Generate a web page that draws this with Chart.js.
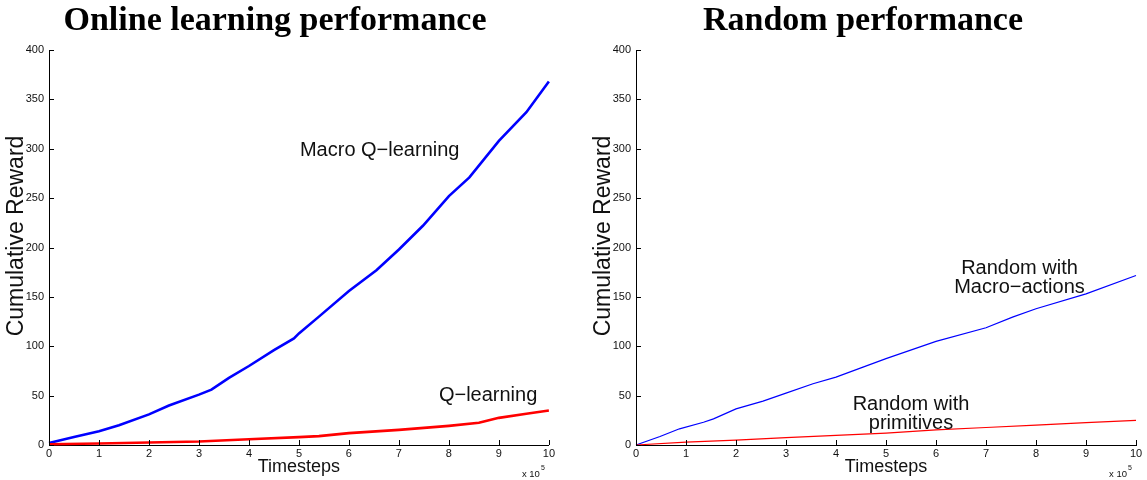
<!DOCTYPE html>
<html>
<head>
<meta charset="utf-8">
<script src="https://cdn.jsdelivr.net/npm/chart.js@4.4.1/dist/chart.umd.min.js"></script>
<style>
  html, body { margin: 0; padding: 0; background: #fff; }
  body { width: 1147px; height: 480px; position: relative; overflow: hidden; }
  #wrapLeft  { position: absolute; left: 0;     top: 0; width: 557px; height: 480px; }
  #wrapRight { position: absolute; left: 590px; top: 0; width: 557px; height: 480px; }
</style>
</head>
<body>
<div id="wrapLeft"><canvas id="chartLeft"></canvas></div>
<div id="wrapRight"><canvas id="chartRight"></canvas></div>
<script>
// Axis ticks (timesteps are in units of 1e5)
const xTickValues = [0, 1, 2, 3, 4, 5, 6, 7, 8, 9, 10];
const yTickValues = [0, 50, 100, 150, 200, 250, 300, 350, 400];

// Online learning: Macro Q-learning
const macroQSteps = [0, 0.5, 1, 1.4, 2, 2.4, 3, 3.25, 3.6, 4, 4.5, 4.9, 5, 5.4, 6, 6.55, 7, 7.48, 8, 8.41, 9, 9.55, 10];
const macroQReward = [2, 8, 14, 20, 31, 40, 51, 56, 68, 80, 96, 108, 113, 130, 156, 177, 198, 222, 252, 271, 308, 337, 368];

// Online learning: Q-learning
const qSteps = [0, 1, 2, 3, 4, 5, 5.4, 6, 7, 8, 8.6, 9, 9.55, 10];
const qReward = [0.8, 1.5, 2.5, 3.5, 5.9, 8, 9, 12, 15.3, 19.4, 22.5, 27.5, 31.6, 35];

// Random policy with macro-actions
const randMacroSteps = [0, 0.48, 0.87, 1.35, 1.55, 2, 2.54, 3, 3.54, 4, 4.54, 5, 6, 7, 7.53, 8, 9, 10];
const randMacroReward = [0, 8.6, 16.4, 23, 26.5, 36.6, 44.4, 52.5, 62, 68.7, 78.8, 87.5, 105, 118.7, 129.5, 138, 153, 171.6];

// Random policy with primitives
const randPrimSteps = [0, 1, 2, 3, 4, 5, 6, 7, 8, 9, 10];
const randPrimReward = [0, 3, 5, 7.4, 9.7, 12, 15.3, 17.7, 20.2, 22.6, 25];

const SANS = "'Liberation Sans', Arial, Helvetica, sans-serif";
const SERIF = "'Liberation Serif', 'Times New Roman', serif";

// Draws MATLAB-style inward tick marks, the y label, the x10^5 exponent and the in-plot text labels
const axesDecor = {
  id: 'axesDecor',
  afterDraw(chart, args, opts) {
    const { ctx, chartArea, scales: { x, y } } = chart;
    ctx.save();
    ctx.strokeStyle = '#000';
    ctx.lineWidth = 1;
    ctx.beginPath();
    x.ticks.forEach(t => {
      const px = Math.round(x.getPixelForValue(t.value)) + 0.5;
      ctx.moveTo(px, chartArea.bottom);
      ctx.lineTo(px, chartArea.bottom - 5);
    });
    y.ticks.forEach(t => {
      const py = Math.round(y.getPixelForValue(t.value)) + 0.5;
      ctx.moveTo(chartArea.left, py);
      ctx.lineTo(chartArea.left + 5, py);
    });
    ctx.stroke();

    // y axis label, rotated
    ctx.fillStyle = '#111';
    ctx.save();
    ctx.translate(opts.yLabelX, opts.yLabelY);
    ctx.rotate(-Math.PI / 2);
    ctx.textAlign = 'center';
    ctx.textBaseline = 'middle';
    ctx.font = `23px ${SANS}`;
    ctx.fillText('Cumulative Reward', 0, 0);
    ctx.restore();

    // exponent of the x axis
    ctx.textBaseline = 'alphabetic';
    ctx.textAlign = 'right';
    ctx.font = `7px ${SANS}`;
    const ex = chartArea.right - 4;
    ctx.fillText('5', ex, 470);
    ctx.font = `9.5px ${SANS}`;
    ctx.fillText('x 10', ex - 5, 476.5);

    // text labels anchored in data coordinates
    ctx.textBaseline = 'middle';
    ctx.font = `${opts.fontSize}px ${SANS}`;
    (opts.labels || []).forEach(l => {
      ctx.textAlign = l.align;
      const px = x.getPixelForValue(l.x);
      l.lines.forEach((txt, i) => {
        ctx.fillText(txt, px, y.getPixelForValue(l.y[i]));
      });
    });
    ctx.restore();
  }
};

function toPoints(xs, ys) {
  return xs.map((v, i) => ({ x: v, y: ys[i] }));
}

function makeChart(canvasId, cfg) {
  return new Chart(document.getElementById(canvasId), {
    type: 'line',
    data: {
      datasets: cfg.series.map(s => ({
        data: toPoints(s.xs, s.ys),
        borderColor: s.color,
        borderWidth: cfg.lineWidth,
        pointRadius: 0,
        tension: 0,
        fill: false,
        clip: false
      }))
    },
    options: {
      responsive: true,
      maintainAspectRatio: false,
      animation: false,
      devicePixelRatio: 1,
      events: [],
      layout: { padding: { left: 0, right: cfg.padRight, top: 0, bottom: 0 } },
      plugins: {
        legend: { display: false },
        tooltip: { enabled: false },
        title: {
          display: true,
          text: cfg.title,
          color: '#000',
          font: { family: SERIF, weight: 'bold', size: 34, lineHeight: 1 },
          padding: { top: 4, bottom: 12 }
        },
        axesDecor: { fontSize: 20, labels: cfg.labels, yLabelX: cfg.yLabelX, yLabelY: 236 }
      },
      scales: {
        x: {
          type: 'linear',
          min: 0,
          max: 10,
          afterBuildTicks: s => { s.ticks = xTickValues.map(v => ({ value: v })); },
          afterFit: s => { s.height = 35; },
          grid: { display: false, drawTicks: false },
          border: { display: true, color: '#000', width: 1 },
          ticks: {
            font: { family: SANS, size: 11 },
            color: '#111',
            padding: 2,
            maxRotation: 0,
            autoSkip: false
          },
          title: {
            display: true,
            text: 'Timesteps',
            color: '#111',
            font: { family: SANS, size: 18, lineHeight: 1 },
            padding: { top: 0, bottom: 4 }
          }
        },
        y: {
          type: 'linear',
          min: 0,
          max: 400,
          afterBuildTicks: s => { s.ticks = yTickValues.map(v => ({ value: v })); },
          afterFit: s => { s.width = cfg.yWidth; },
          grid: { display: false, drawTicks: false },
          border: { display: true, color: '#000', width: 1 },
          ticks: {
            font: { family: SANS, size: 11 },
            color: '#111',
            padding: 5,
            autoSkip: false
          },
          title: { display: false }
        }
      }
    },
    plugins: [axesDecor]
  });
}

makeChart('chartLeft', {
  title: 'Online learning performance',
  lineWidth: 2.6,
  padRight: 7,
  yWidth: 49,
  yLabelX: 16.5,
  series: [
    { xs: qSteps, ys: qReward, color: '#ff0000' },
    { xs: macroQSteps, ys: macroQReward, color: '#0000ff' }
  ],
  labels: [
    { lines: ['Macro Q\u2212learning'], x: 5.02, y: [298], align: 'left' },
    { lines: ['Q\u2212learning'], x: 7.8, y: [50], align: 'left' }
  ]
});

makeChart('chartRight', {
  title: 'Random performance',
  lineWidth: 1.2,
  padRight: 11,
  yWidth: 46,
  yLabelX: 14,
  series: [
    { xs: randPrimSteps, ys: randPrimReward, color: '#ff0000' },
    { xs: randMacroSteps, ys: randMacroReward, color: '#0000ff' }
  ],
  labels: [
    { lines: ['Random with', 'Macro\u2212actions'], x: 7.67, y: [179, 160], align: 'center' },
    { lines: ['Random with', 'primitives'], x: 5.5, y: [40.8, 21.5], align: 'center' }
  ]
});
</script>
</body>
</html>
